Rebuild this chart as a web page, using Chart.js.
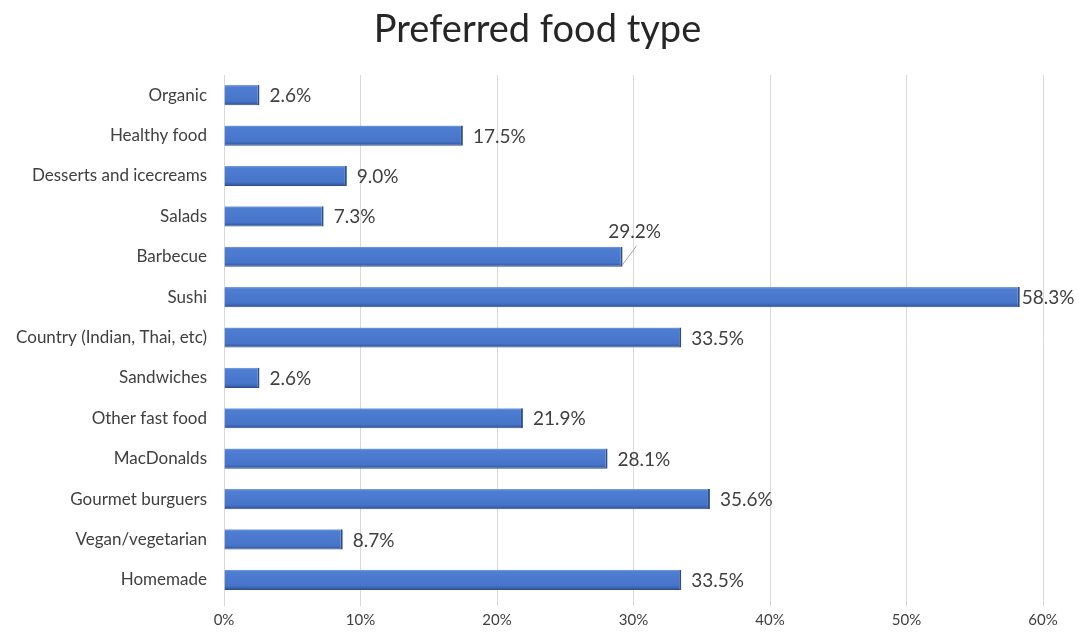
<!DOCTYPE html>
<html>
<head>
<meta charset="utf-8">
<script src="https://cdn.jsdelivr.net/npm/chart.js@4"></script>
<style>
  html, body { margin: 0; padding: 0; background: #fff; }
  #wrap { width: 1079px; height: 637px; }
</style>
</head>
<body>
<div id="wrap"><canvas id="chart"></canvas></div>
<script>
// dados
const categories = ['Organic', 'Healthy food', 'Desserts and icecreams', 'Salads', 'Barbecue', 'Sushi',
    'Country (Indian, Thai, etc)', 'Sandwiches', 'Other fast food', 'MacDonalds', 'Gourmet burguers',
    'Vegan/vegetarian', 'Homemade'];
const percentValues = [2.6, 17.5, 9.0, 7.3, 29.2, 58.3, 33.5, 2.6, 21.9, 28.1, 35.6, 8.7, 33.5];
const xTicks = [0, 10, 20, 30, 40, 50, 60];
const chartTitle = 'Preferred food type';

const textColor = '#404040';
const fontFamily = 'Lato, "Open Sans", sans-serif';

// gradiente da barra (efeito 3D do Excel)
function barFill(context) {
    const chart = context.chart;
    const yScale = chart.scales.y;
    if (!yScale || context.dataIndex == null) return '#4472C4';
    const cy = yScale.getPixelForValue(context.dataIndex);
    const half = (yScale.height / categories.length) * 0.25;
    if (!isFinite(cy) || !isFinite(half) || half <= 0) return '#4472C4';
    const g = chart.ctx.createLinearGradient(0, cy - half, 0, cy + half);
    g.addColorStop(0, '#7fa2e0');
    g.addColorStop(0.1, '#4e7ed2');
    g.addColorStop(0.8, '#4674c8');
    g.addColorStop(1, '#2f5193');
    return g;
}

// título centrado na tela inteira (o título padrão respeita o padding)
const pageTitle = {
    id: 'pageTitle',
    afterDraw(chart, args, opts) {
        const ctx = chart.ctx;
        ctx.save();
        ctx.font = '38px ' + fontFamily;
        ctx.fillStyle = '#262626';
        ctx.textAlign = 'center';
        ctx.textBaseline = 'middle';
        ctx.fillText(opts.text, chart.width / 2 - 2, 30);
        ctx.restore();
    }
};

// rótulos de valor no fim das barras
const valueLabels = {
    id: 'valueLabels',
    afterDatasetsDraw(chart, args, opts) {
        const ctx = chart.ctx;
        const meta = chart.getDatasetMeta(0);
        ctx.save();
        ctx.font = '19px ' + fontFamily;
        ctx.fillStyle = textColor;
        ctx.textBaseline = 'middle';
        meta.data.forEach((bar, i) => {
            const text = percentValues[i].toFixed(1) + '%';
            const w = ctx.measureText(text).width;
            const callout = opts.callouts[categories[i]];
            if (callout) {
                const lx = bar.x + callout.dx;
                const ly = bar.y + callout.dy;
                ctx.strokeStyle = '#a6a6a6';
                ctx.lineWidth = 1;
                ctx.beginPath();
                ctx.moveTo(bar.x, bar.y + 8);
                ctx.lineTo(lx + 2, ly + 14);
                ctx.stroke();
                ctx.textAlign = 'center';
                ctx.fillText(text, lx, ly);
                return;
            }
            let gap = 10;
            if (bar.x + gap + w > chart.chartArea.right) gap = 2;
            ctx.textAlign = 'left';
            ctx.fillText(text, bar.x + gap, bar.y + 1);
        });
        ctx.restore();
    }
};

const ctx = document.getElementById('chart').getContext('2d');
new Chart(ctx, {
    type: 'bar',
    data: {
        labels: categories,
        datasets: [{
            data: percentValues,
            backgroundColor: barFill,
            borderColor: '#2f4f8a',
            borderWidth: { right: 2, bottom: 1, top: 0, left: 0 },
            borderSkipped: false,
            barPercentage: 0.5,
            categoryPercentage: 1.0
        }]
    },
    options: {
        indexAxis: 'y',
        responsive: true,
        maintainAspectRatio: false,
        animation: false,
        layout: { padding: { left: 0, right: 36, top: 75, bottom: 0 } },
        scales: {
            x: {
                min: 0,
                max: 60,
                afterBuildTicks: (scale) => { scale.ticks = xTicks.map(v => ({ value: v })); },
                afterFit: (scale) => { scale.height = 37; },
                grid: { color: '#d9d9d9', lineWidth: 1, drawTicks: true, tickLength: 6 },
                border: { display: false },
                ticks: {
                    color: textColor,
                    font: { family: fontFamily, size: 15 },
                    padding: 5,
                    callback: (v) => v + '%'
                }
            },
            y: {
                afterFit: (scale) => { scale.width = 224; },
                grid: { display: false, drawTicks: false },
                border: { display: false },
                ticks: {
                    color: textColor,
                    font: { family: fontFamily, size: 17 },
                    padding: 17
                }
            }
        },
        plugins: {
            legend: { display: false },
            tooltip: { enabled: false },
            title: { display: false },
            pageTitle: { text: chartTitle },
            valueLabels: {
                callouts: { 'Barbecue': { dx: 12, dy: -25 } }
            }
        }
    },
    plugins: [valueLabels, pageTitle]
});
</script>
</body>
</html>
